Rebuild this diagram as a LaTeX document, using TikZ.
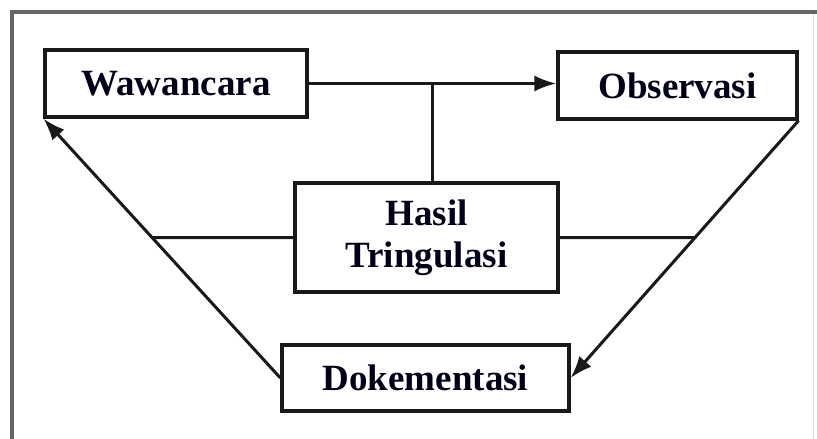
\documentclass[tikz,border=0pt]{standalone}
\usepackage{fontspec}
\setmainfont{Liberation Serif}
\usetikzlibrary{arrows.meta,calc}
\begin{document}
\begin{tikzpicture}[x=1pt,y=-1pt,
  box/.style={draw=black!90,line width=3.2pt,fill=white,inner sep=0pt,
    font=\fontsize{37}{42}\selectfont\bfseries,text=black!90!blue,align=center},
  conn/.style={line width=3pt,draw=black!90},
  arr/.style={conn,-{Latex[length=22pt,width=16pt]}}]
\useasboundingbox (0,0) rectangle (817,439);
\fill[white] (0,0) rectangle (817,439);
% frame
\draw[line width=1pt,black!12] (813,12) -- (813,439);
\draw[line width=3.5pt,black!60] (12,439) -- (12,12) -- (817,12);
% nodes
\node[box,minimum width=262pt,minimum height=67pt] (w) at (176,83.5) {Wawancara};
\node[box,minimum width=239pt,minimum height=67pt] (o) at (677.5,85.5) {Observasi};
\node[box,minimum width=263pt,minimum height=109pt] (h) at (426.5,237.5) {Hasil\\Tringulasi};
\node[box,minimum width=287pt,minimum height=66pt] (d) at (425.5,378) {Dokementasi};
% connectors
\draw[arr] (w.east) -- (w.east -| o.west);
\coordinate (j) at ($(w.east)!0.5!(w.east -| o.west)$);
\draw[conn] (j) -- (j |- h.north);
\draw[arr] (d.west) -- (w.south west);
\draw[arr] (o.south east) -- (d.east);
\coordinate (l) at (intersection cs: first line={(d.west)--(w.south west)}, second line={(h.west)--(h.east)});
\coordinate (r) at (intersection cs: first line={(o.south east)--(d.east)}, second line={(h.west)--(h.east)});
\draw[conn] (h.west) -- (l);
\draw[conn] (h.east) -- (r);
\end{tikzpicture}
\end{document}
